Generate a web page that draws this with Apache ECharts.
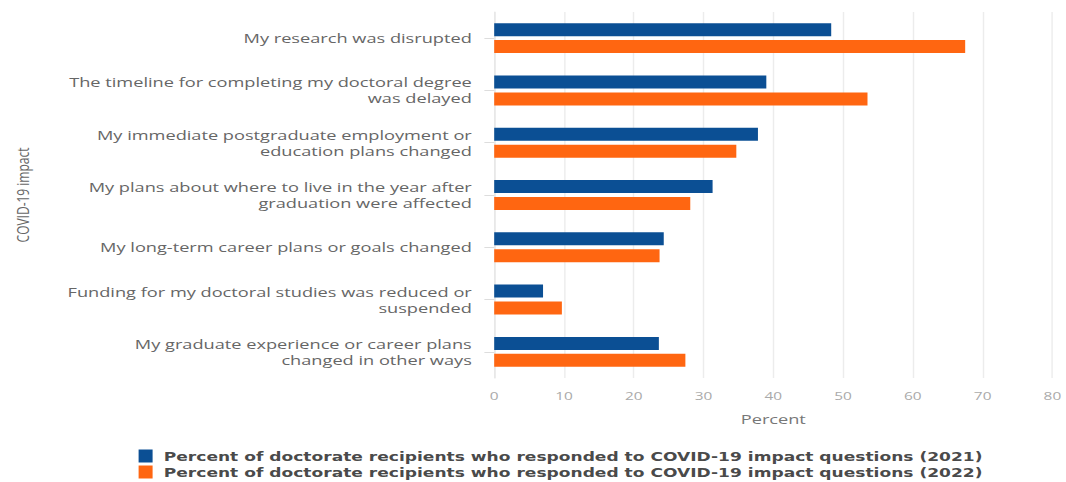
<!DOCTYPE html>
<html>
<head>
<meta charset="utf-8">
<script src="https://cdn.jsdelivr.net/npm/echarts@6/dist/echarts.min.js"></script>
<style>
  html, body { margin: 0; padding: 0; background: #fff; overflow: hidden; }
  #wrap { width: 1066px; height: 482px; overflow: hidden; }
  /* the chart is laid out narrow and widened horizontally */
  #chart { width: 761px; height: 482px; transform: scaleX(1.4); transform-origin: 0 0; }
</style>
</head>
<body>
<div id="wrap"><div id="chart"></div></div>
<script>
// Categories of COVID-19 impact, top to bottom
const categories = [
  'My research was disrupted',
  'The timeline for completing my doctoral degree\nwas delayed',
  'My immediate postgraduate employment or\neducation plans changed',
  'My plans about where to live in the year after\ngraduation were affected',
  'My long-term career plans or goals changed',
  'Funding for my doctoral studies was reduced or\nsuspended',
  'My graduate experience or career plans\nchanged in other ways'
];

const seriesNames = [
  'Percent of doctorate recipients who responded to COVID-19 impact questions (2021)',
  'Percent of doctorate recipients who responded to COVID-19 impact questions (2022)'
];

const values2021 = [48.3, 39.0, 37.8, 31.3, 24.3, 7.0, 23.6];
const values2022 = [67.5, 53.5, 34.7, 28.1, 23.7, 9.7, 27.4];

const xTicks = [0, 10, 20, 30, 40, 50, 60, 70, 80];

const FONT = '"Open Sans", "Noto Sans", sans-serif';

function legendRow(name, top) {
  return {
    orient: 'vertical',
    left: 94,
    top: top,
    itemWidth: 10,
    itemHeight: 13,
    itemGap: 0,
    icon: 'rect',
    textStyle: {
      fontFamily: '"DejaVu Sans", sans-serif', fontSize: 12.2, fontWeight: 'bold',
      color: '#4a4a4a', lineHeight: 14, padding: [0, 0, 0, 3]
    },
    data: [name]
  };
}

const chart = echarts.init(document.getElementById('chart'), null, { renderer: 'svg' });
chart.setOption({
  animation: false,
  textStyle: { fontFamily: FONT },
  grid: { left: 353, right: 8, top: 12, bottom: 104, containLabel: false },
  legend: [legendRow(seriesNames[0], 444), legendRow(seriesNames[1], 460)],
  xAxis: {
    type: 'value',
    min: xTicks[0],
    max: xTicks[xTicks.length - 1],
    interval: 10,
    name: 'Percent',
    nameLocation: 'middle',
    nameGap: 35,
    nameTextStyle: { fontFamily: FONT, fontSize: 13, color: '#777' },
    axisLine: { show: false },
    axisTick: { show: false },
    axisLabel: { fontFamily: FONT, fontSize: 11, color: '#aaa', margin: 12 },
    splitLine: { show: true, lineStyle: { color: '#ececec', width: 1 } }
  },
  yAxis: {
    type: 'category',
    inverse: true,
    data: categories,
    name: 'COVID-19 impact',
    nameLocation: 'middle',
    nameGap: 331,
    nameRotate: 90,
    nameTextStyle: { fontFamily: FONT, fontSize: 12, color: '#666' },
    axisLine: { show: true, lineStyle: { color: '#e6e6e6' } },
    axisTick: { show: true, length: 7, alignWithLabel: true, lineStyle: { color: '#ddd' } },
    axisLabel: {
      fontFamily: FONT, fontSize: 13, color: '#666', margin: 16,
      lineHeight: 16, align: 'right'
    }
  },
  series: [
    {
      name: seriesNames[0],
      type: 'bar',
      data: values2021,
      barWidth: 13,
      barGap: '30%',
      itemStyle: { color: '#0b4f94' }
    },
    {
      name: seriesNames[1],
      type: 'bar',
      data: values2022,
      barWidth: 13,
      barGap: '30%',
      itemStyle: { color: '#ff6611' }
    }
  ]
});
</script>
</body>
</html>
